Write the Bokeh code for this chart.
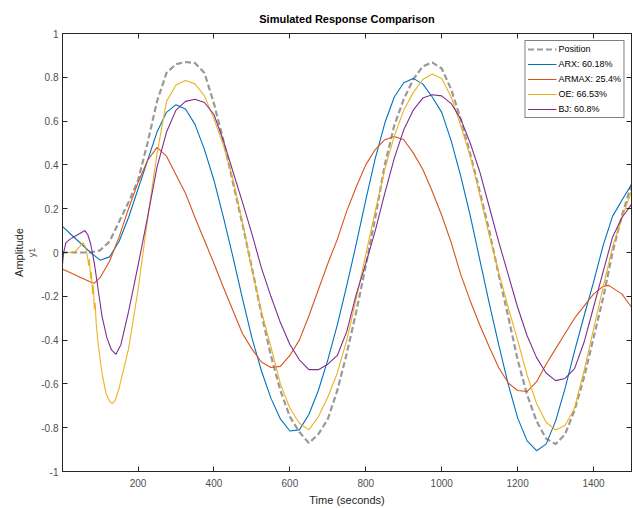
from bokeh.plotting import figure
from bokeh.models import (LinearAxis, FixedTicker, Range1d, Legend, LegendItem,
                          CustomJSTickFormatter, CustomLabelingPolicy)
from bokeh.embed import file_html
from bokeh.resources import INLINE

# ---- measured output (Position) ----
t_pos = [0, 25, 50, 75, 100, 125, 150, 175, 200, 225, 250, 275, 300, 325, 350, 375,
         400, 425, 450, 475, 500, 525, 550, 575, 600, 625, 650, 675, 700, 725, 750,
         775, 800, 825, 850, 875, 900, 925, 950, 975, 1000, 1025, 1050, 1075, 1100,
         1125, 1150, 1175, 1200, 1225, 1250, 1275, 1300, 1325, 1350, 1375, 1400,
         1425, 1450, 1475, 1500]
y_pos = [0.0, 0.0, 0.0, 0.0, 0.01, 0.05, 0.14, 0.23, 0.33, 0.50, 0.69, 0.82, 0.86, 0.87,
         0.865, 0.82, 0.68, 0.51, 0.32, 0.13, -0.07, -0.28, -0.47, -0.63, -0.75, -0.82,
         -0.87, -0.83, -0.76, -0.63, -0.46, -0.27, -0.06, 0.16, 0.40, 0.58, 0.70, 0.79,
         0.85, 0.868, 0.84, 0.745, 0.61, 0.45, 0.28, 0.10, -0.10, -0.29, -0.49, -0.65,
         -0.77, -0.85, -0.875, -0.83, -0.72, -0.57, -0.39, -0.21, 0.0, 0.17, 0.31]

# ---- ARX model ----
t_arx = t_pos
y_arx = [0.12, 0.08, 0.04, 0.0, -0.035, -0.02, 0.05, 0.16, 0.29, 0.42, 0.55, 0.64, 0.675,
         0.655, 0.585, 0.47, 0.33, 0.16, -0.02, -0.21, -0.39, -0.54, -0.665, -0.76, -0.815,
         -0.81, -0.74, -0.63, -0.49, -0.33, -0.15, 0.04, 0.24, 0.43, 0.59, 0.71, 0.775,
         0.795, 0.77, 0.71, 0.64, 0.51, 0.35, 0.17, -0.03, -0.23, -0.42, -0.60, -0.755,
         -0.86, -0.905, -0.875, -0.77, -0.62, -0.45, -0.29, -0.135, 0.03, 0.165, 0.24, 0.31]

# ---- ARMAX model ----
t_armax = [0, 25, 50, 75, 85, 100, 125, 150, 175, 200, 225, 250, 275, 300, 325, 350, 375,
           400, 425, 450, 475, 500, 525, 550, 575, 600, 625, 650, 675, 700, 725, 750,
           775, 800, 825, 850, 875, 900, 925, 950, 975, 1000, 1025, 1050, 1075, 1100,
           1125, 1150, 1175, 1200, 1225, 1250, 1275, 1300, 1325, 1350, 1375, 1400,
           1425, 1440, 1475, 1500]
y_armax = [-0.075, -0.095, -0.115, -0.135, -0.14, -0.115, -0.04, 0.07, 0.20, 0.32, 0.42,
           0.48, 0.44, 0.355, 0.27, 0.16, 0.055, -0.05, -0.16, -0.265, -0.37, -0.44, -0.50,
           -0.525, -0.52, -0.47, -0.40, -0.29, -0.17, -0.05, 0.06, 0.19, 0.30, 0.40, 0.47,
           0.515, 0.53, 0.515, 0.455, 0.38, 0.28, 0.17, 0.045, -0.10, -0.22, -0.33, -0.43,
           -0.525, -0.595, -0.63, -0.635, -0.59, -0.51, -0.44, -0.37, -0.30, -0.245, -0.19,
           -0.155, -0.15, -0.19, -0.25]

# ---- OE model ----
t_oe = [0, 20, 35, 45, 55, 62, 67, 70, 72, 75, 77, 80, 82, 85, 87, 90, 95, 105, 115, 125,
        132, 140, 150, 175, 200, 225, 250, 275, 300, 325, 350, 375, 400, 425, 450, 475,
        500, 525, 550, 575, 600, 625, 650, 675, 700, 725, 750, 775, 800, 825, 850, 875,
        900, 925, 950, 975, 1000, 1025, 1050, 1075, 1100, 1125, 1150, 1175, 1200, 1225,
        1250, 1275, 1300, 1325, 1350, 1375, 1400, 1425, 1450, 1475, 1500]
y_oe = [0.0, 0.0, 0.005, 0.025, 0.045, 0.025, -0.02, -0.06, -0.03, -0.12, -0.09, -0.19,
        -0.15, -0.26, -0.23, -0.33, -0.42, -0.55, -0.64, -0.68, -0.69, -0.675, -0.62, -0.44,
        -0.17, 0.15, 0.45, 0.69, 0.765, 0.785, 0.77, 0.715, 0.61, 0.49, 0.335, 0.14, -0.08,
        -0.27, -0.43, -0.60, -0.71, -0.78, -0.81, -0.75, -0.66, -0.55, -0.40, -0.21, -0.01,
        0.19, 0.38, 0.53, 0.65, 0.73, 0.79, 0.815, 0.795, 0.71, 0.58, 0.44, 0.265, 0.08,
        -0.09, -0.25, -0.40, -0.56, -0.69, -0.775, -0.81, -0.79, -0.71, -0.54, -0.35,
        -0.16, 0.025, 0.16, 0.28]

# ---- BJ model ----
t_bj = [0, 4, 10, 20, 35, 50, 60, 68, 75, 85, 95, 105, 118, 130, 142, 155, 175, 200, 225,
        250, 275, 300, 325, 350, 375, 400, 425, 450, 475, 500, 525, 550, 575, 600, 625,
        650, 675, 700, 725, 750, 775, 800, 825, 850, 875, 900, 925, 950, 975, 1000, 1025,
        1050, 1075, 1100, 1125, 1150, 1175, 1200, 1225, 1250, 1275, 1300, 1325, 1350,
        1375, 1400, 1425, 1450, 1475, 1500]
y_bj = [-0.07, 0.0, 0.045, 0.06, 0.075, 0.09, 0.10, 0.08, 0.04, -0.05, -0.17, -0.29, -0.39,
        -0.445, -0.465, -0.42, -0.27, -0.06, 0.16, 0.39, 0.55, 0.65, 0.69, 0.70, 0.685,
        0.63, 0.51, 0.37, 0.23, 0.085, -0.07, -0.20, -0.32, -0.42, -0.49, -0.535, -0.535,
        -0.51, -0.47, -0.36, -0.19, -0.05, 0.10, 0.27, 0.43, 0.56, 0.65, 0.705, 0.72, 0.715,
        0.68, 0.61, 0.50, 0.37, 0.21, 0.05, -0.10, -0.25, -0.38, -0.48, -0.55, -0.585,
        -0.575, -0.53, -0.41, -0.25, -0.09, 0.07, 0.16, 0.22]

x_ticks = [200, 400, 600, 800, 1000, 1200, 1400]
y_ticks = [-1, -0.8, -0.6, -0.4, -0.2, 0, 0.2, 0.4, 0.6, 0.8, 1]

AX = "#262626"
TICKLAB = "#505050"
FONT = "Liberation Sans"

p = figure(width=633, height=508, output_backend="svg", toolbar_location=None,
           x_range=Range1d(1, 1500), y_range=Range1d(-1, 1),
           min_border_left=62, min_border_right=2, min_border_top=33,
           min_border_bottom=37, x_axis_location=None, y_axis_location=None)
p.grid.visible = False
p.outline_line_color = AX
p.background_fill_color = "white"
p.border_fill_color = "white"

p.title.text = "Simulated Response Comparison"
p.title.align = "center"
p.title.text_font = FONT
p.title.text_font_size = "11px"
p.title.text_font_style = "bold"
p.title.text_color = "black"
p.title.standoff = 17

fmt = CustomJSTickFormatter(code="const v = Math.round(tick*10)/10; return String(v);")
# box axes on top/right carry tick marks only, never labels
no_labels = CustomLabelingPolicy(code="for (const i of indices) { if (i < 0) yield i; }")


def style_axis(ax, labels=True):
    ax.axis_line_color = AX
    ax.major_tick_line_color = AX
    ax.major_tick_in = 5
    ax.major_tick_out = 0
    ax.minor_tick_in = 0
    ax.minor_tick_out = 0
    ax.major_label_text_font = FONT
    ax.major_label_text_font_size = "10px" if labels else "0px"
    ax.major_label_text_color = TICKLAB
    ax.major_label_standoff = 4 if labels else 0
    ax.axis_label_text_font = FONT
    ax.axis_label_text_font_style = "normal"
    ax.axis_label_text_color = AX
    if not labels:
        ax.major_label_policy = no_labels


xb = LinearAxis(ticker=FixedTicker(ticks=x_ticks), axis_label="Time (seconds)")
style_axis(xb)
xb.major_label_standoff = 7
xb.axis_label_text_font_size = "11px"
xb.axis_label_standoff = 4
p.add_layout(xb, "below")

yl = LinearAxis(ticker=FixedTicker(ticks=y_ticks), formatter=fmt, axis_label="y1")
style_axis(yl)
yl.axis_label_text_font_size = "9px"
yl.axis_label_text_color = TICKLAB
yl.axis_label_standoff = 1
p.add_layout(yl, "left")

ya = LinearAxis(ticker=FixedTicker(ticks=[]), axis_label="Amplitude")
style_axis(ya, labels=False)
ya.axis_line_color = None
ya.axis_label_text_font_size = "11px"
ya.axis_label_standoff = 0
p.add_layout(ya, "left")

xt = LinearAxis(ticker=FixedTicker(ticks=x_ticks))
style_axis(xt, labels=False)
p.add_layout(xt, "above")
yr = LinearAxis(ticker=FixedTicker(ticks=y_ticks))
style_axis(yr, labels=False)
p.add_layout(yr, "right")

r_pos = p.line(t_pos, y_pos, line_color="#999999", line_width=2.2, line_dash="6 3")
r_arx = p.line(t_arx, y_arx, line_color="#0072BD", line_width=1.1)
r_armax = p.line(t_armax, y_armax, line_color="#D95319", line_width=1.1)
r_oe = p.line(t_oe, y_oe, line_color="#EDB120", line_width=1.1)
r_bj = p.line(t_bj, y_bj, line_color="#7E2F8E", line_width=1.1)

legend = Legend(items=[
    LegendItem(label="Position", renderers=[r_pos]),
    LegendItem(label="ARX: 60.18%", renderers=[r_arx]),
    LegendItem(label="ARMAX: 25.4%", renderers=[r_armax]),
    LegendItem(label="OE: 66.53%", renderers=[r_oe]),
    LegendItem(label="BJ: 60.8%", renderers=[r_bj]),
], location="top_right")
legend.label_text_font = FONT
legend.label_text_font_size = "9px"
legend.label_text_color = "black"
legend.label_height = 12
legend.glyph_height = 12
legend.glyph_width = 29
legend.label_standoff = 2
legend.spacing = 3
legend.padding = 2
legend.margin = 7
legend.border_line_color = "black"
legend.border_line_width = 1
legend.background_fill_color = "white"
p.add_layout(legend)

open("out.html", "w").write(file_html(p, INLINE))
